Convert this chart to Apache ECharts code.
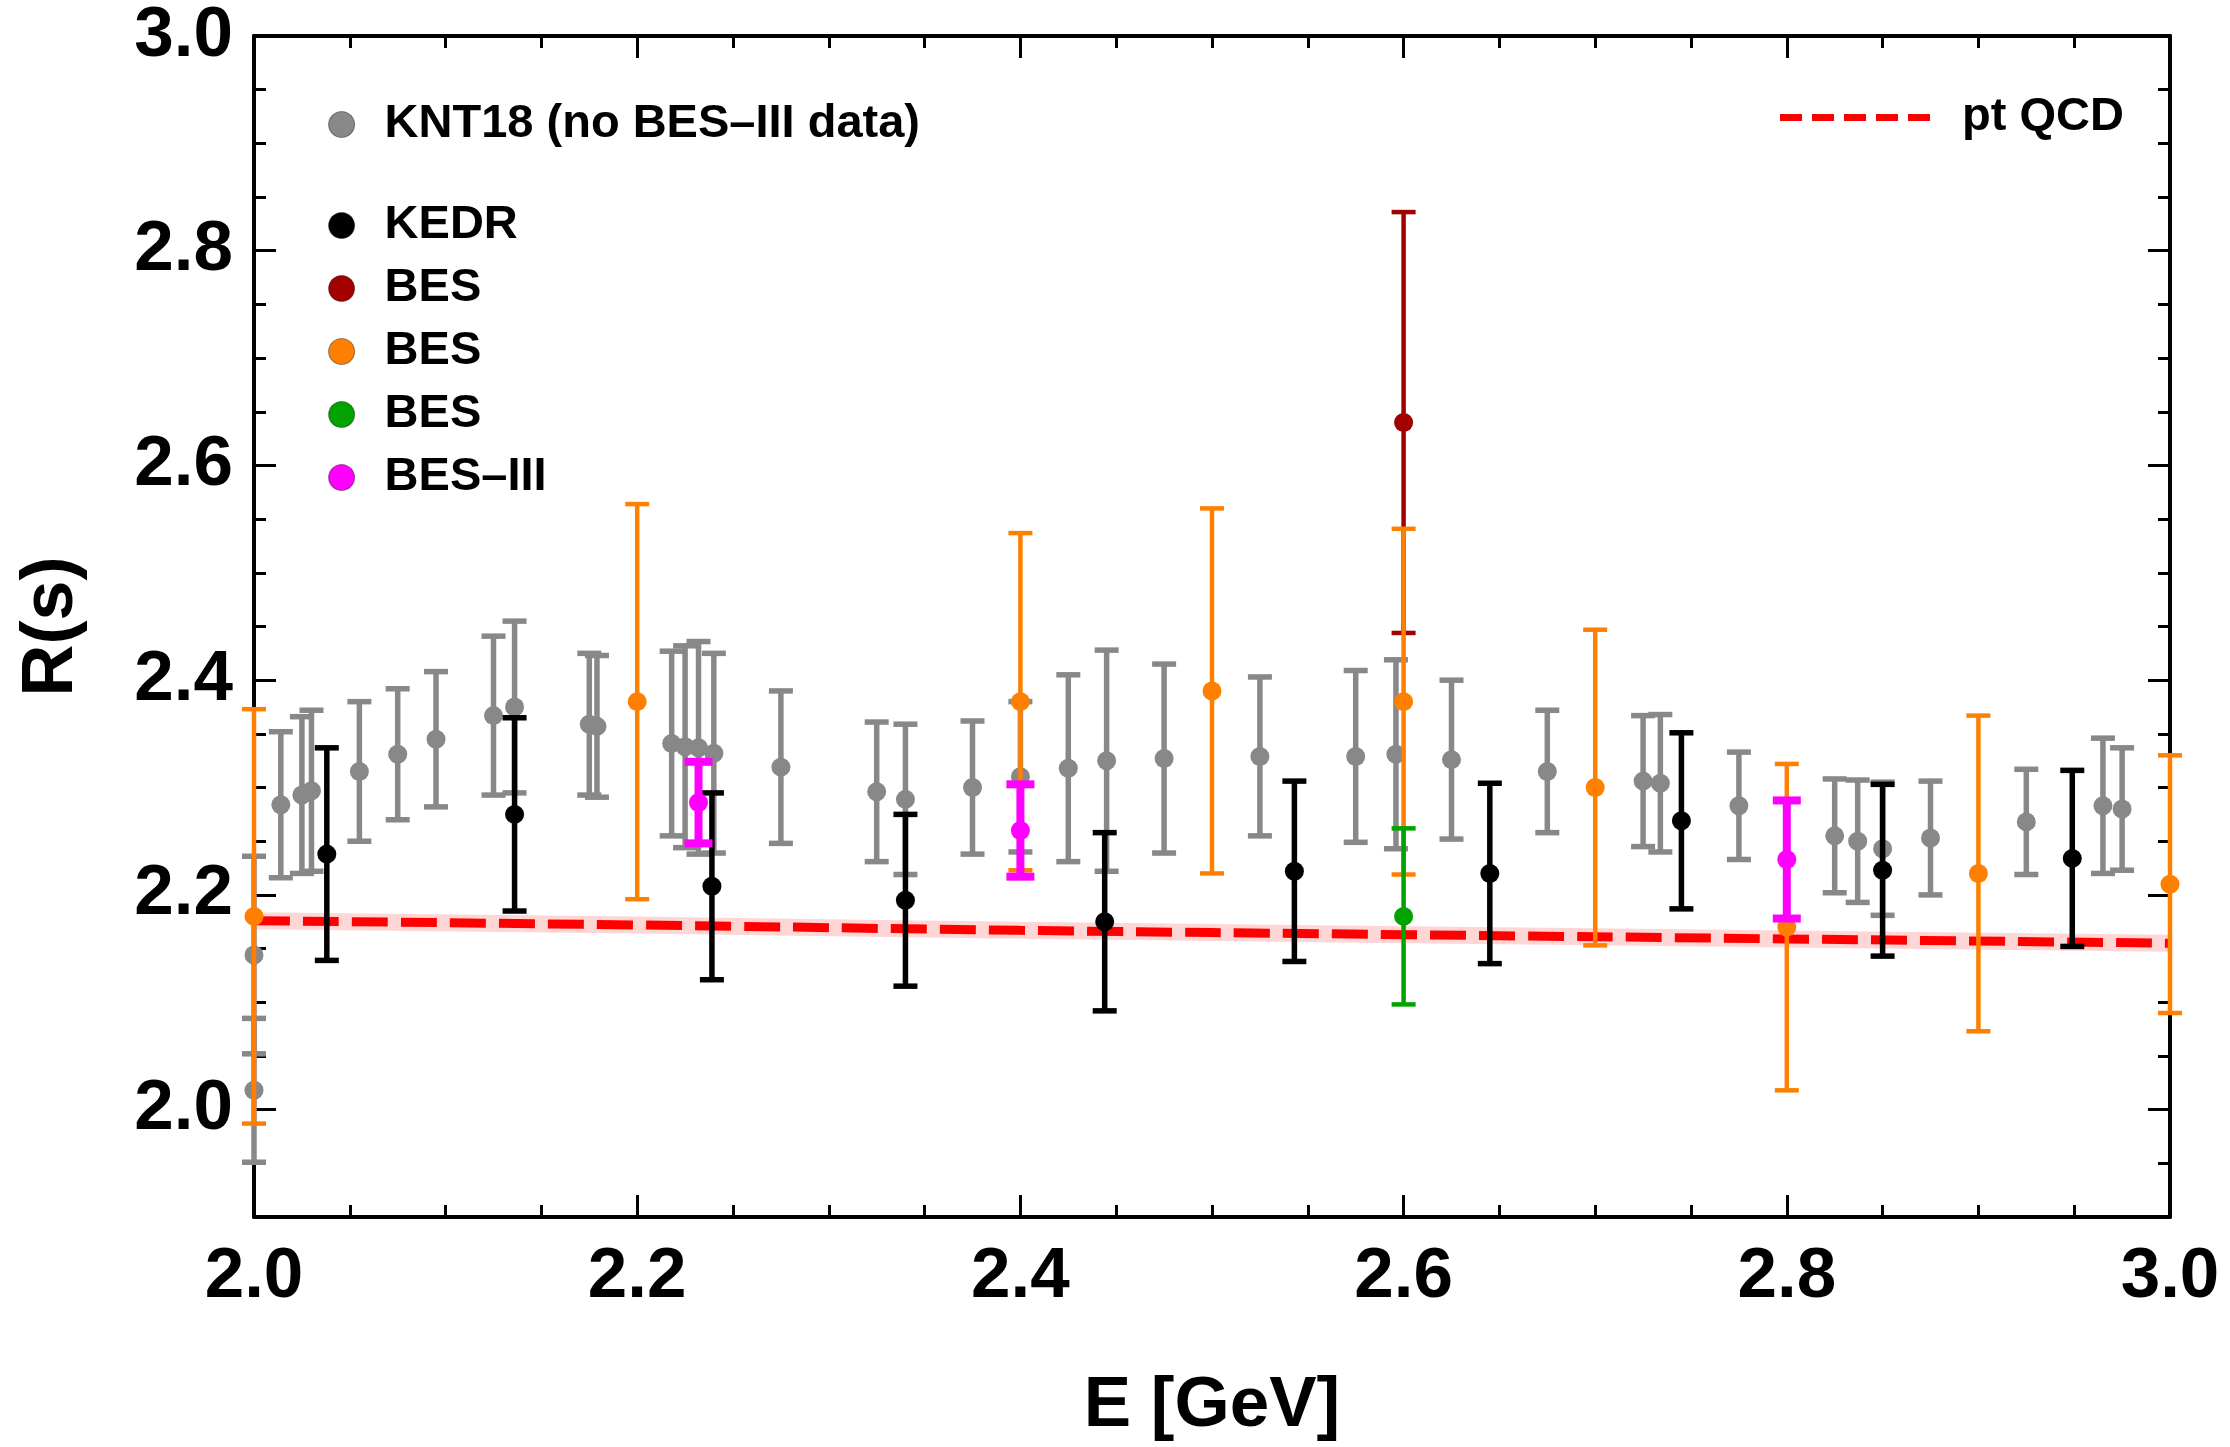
<!DOCTYPE html>
<html>
<head>
<meta charset="utf-8">
<script src="https://cdn.jsdelivr.net/npm/echarts@6/dist/echarts.min.js"></script>
<style>
  html, body { margin: 0; padding: 0; background: #ffffff; }
  #chart { width: 2230px; height: 1447px; }
</style>
</head>
<body>
<div id="chart"></div>
<script>
// R(s) measurements between 2 and 3 GeV: energy E [GeV], value R, symmetric error

// KNT18 compilation (no BES-III data)
const kntE = [2.000, 2.000, 2.014, 2.025, 2.030, 2.055, 2.075, 2.095, 2.125, 2.136,
              2.175, 2.179, 2.218, 2.225, 2.232, 2.240, 2.275, 2.325, 2.340, 2.375,
              2.400, 2.425, 2.445, 2.475, 2.525, 2.575, 2.596, 2.625, 2.675, 2.725,
              2.734, 2.775, 2.825, 2.837, 2.850, 2.875, 2.925, 2.965, 2.975];
const kntR = [2.144, 2.018, 2.284, 2.293, 2.297, 2.315, 2.331, 2.345, 2.367, 2.375,
              2.359, 2.357, 2.341, 2.338, 2.337, 2.332, 2.319, 2.296, 2.289, 2.300,
              2.310, 2.318, 2.325, 2.327, 2.329, 2.329, 2.331, 2.326, 2.315, 2.306,
              2.304, 2.283, 2.255, 2.250, 2.243, 2.253, 2.268, 2.283, 2.280];
const kntErr = [0.092, 0.067, 0.068, 0.073, 0.075, 0.065, 0.061, 0.063, 0.074, 0.080,
                0.066, 0.066, 0.086, 0.094, 0.099, 0.093, 0.071, 0.065, 0.070, 0.062,
                0.070, 0.087, 0.103, 0.088, 0.074, 0.080, 0.088, 0.074, 0.057, 0.061,
                0.064, 0.050, 0.053, 0.057, 0.062, 0.053, 0.049, 0.063, 0.057];

// KEDR
const kedrE = [2.038, 2.136, 2.239, 2.340, 2.444, 2.543, 2.645, 2.745, 2.850, 2.949];
const kedrR = [2.238, 2.275, 2.208, 2.195, 2.175, 2.222, 2.220, 2.269, 2.223, 2.234];
const kedrErr = [0.099, 0.090, 0.087, 0.080, 0.083, 0.084, 0.084, 0.082, 0.080, 0.082];

// BES (three data sets)
const besAE = [2.600];
const besAR = [2.640];
const besAErr = [0.196];

const besBE = [2.000, 2.200, 2.400, 2.500, 2.600, 2.700, 2.800, 2.900, 3.000];
const besBR = [2.180, 2.380, 2.380, 2.390, 2.380, 2.300, 2.170, 2.220, 2.210];
const besBErr = [0.193, 0.184, 0.157, 0.170, 0.161, 0.147, 0.152, 0.147, 0.120];

const besCE = [2.600];
const besCR = [2.180];
const besCErr = [0.082];

// BES-III
const bes3E = [2.232, 2.400, 2.800];
const bes3R = [2.286, 2.260, 2.233];
const bes3Err = [0.038, 0.043, 0.055];

// perturbative QCD prediction
const qcdE = [2.0, 2.2, 2.4, 2.6, 2.8, 3.0];
const qcdR = [2.176, 2.172, 2.167, 2.163, 2.159, 2.155];

// axis ticks
const xTickValues = [2.0, 2.2, 2.4, 2.6, 2.8, 3.0];
const yTickValues = [2.0, 2.2, 2.4, 2.6, 2.8, 3.0];

const X_MIN = 2.0, X_MAX = 3.0, Y_MIN = 1.9, Y_MAX = 3.0;
const FONT = "'Liberation Sans', Arial, Helvetica, sans-serif";

function steps(lo, hi, step) {
  const out = [];
  const n = Math.round((hi - lo) / step);
  for (let i = 0; i <= n; i++) out.push(+(lo + i * step).toFixed(4));
  return out;
}
const xMinorTicks = steps(X_MIN, X_MAX, 0.05);
const yMinorTicks = steps(Y_MIN, Y_MAX, 0.05);

const legendLabel = {
  'KNT18 (no BES–III data)': 'KNT18 (no BES–III data)',
  'KEDR': 'KEDR',
  'BES 1': 'BES',
  'BES 2': 'BES',
  'BES 3': 'BES',
  'BES–III': 'BES–III',
  'pt QCD': 'pt QCD'
};

function zip(E, R, err) {
  return E.map((e, i) => err ? [e, R[i], err[i]] : [e, R[i]]);
}

// vertical error bar with caps, drawn through the axis scales
function errorBars(name, E, R, err, color, lineWidth, capWidth, z) {
  return {
    type: 'custom',
    name: name,
    z: z,
    clip: false,
    silent: true,
    encode: { x: 0, y: 1 },
    data: zip(E, R, err),
    renderItem: function (params, api) {
      const x = api.value(0), y = api.value(1), e = api.value(2);
      const top = api.coord([x, y + e]);
      const bot = api.coord([x, y - e]);
      const h = capWidth / 2;
      const st = { stroke: color, lineWidth: lineWidth, fill: null };
      return {
        type: 'group',
        children: [
          { type: 'line', shape: { x1: top[0], y1: top[1], x2: bot[0], y2: bot[1] }, style: st },
          { type: 'line', shape: { x1: top[0] - h, y1: top[1], x2: top[0] + h, y2: top[1] }, style: st },
          { type: 'line', shape: { x1: bot[0] - h, y1: bot[1], x2: bot[0] + h, y2: bot[1] }, style: st }
        ]
      };
    }
  };
}

function points(name, E, R, color, z) {
  return {
    type: 'scatter',
    name: name,
    z: z,
    clip: false,
    symbol: 'circle',
    symbolSize: 19,
    itemStyle: { color: color, opacity: 1 },
    emphasis: { disabled: true },
    data: zip(E, R)
  };
}

const sets = [
  { name: 'KNT18 (no BES–III data)', E: kntE, R: kntR, err: kntErr, color: '#888888', lw: 5.5, cap: 24 },
  { name: 'BES 1', E: besAE, R: besAR, err: besAErr, color: '#A30000', lw: 4.5, cap: 24 },
  { name: 'BES 2', E: besBE, R: besBR, err: besBErr, color: '#FF8000', lw: 4.5, cap: 24 },
  { name: 'KEDR', E: kedrE, R: kedrR, err: kedrErr, color: '#000000', lw: 5.5, cap: 24 },
  { name: 'BES 3', E: besCE, R: besCR, err: besCErr, color: '#00A300', lw: 4.5, cap: 24 },
  { name: 'BES–III', E: bes3E, R: bes3R, err: bes3Err, color: '#FF00FF', lw: 8, cap: 28 }
];

const series = [];
// points first so each legend entry takes its colour from the scatter series
sets.forEach((s, i) => series.push(points(s.name, s.E, s.R, s.color, 11 + 2 * i)));
sets.forEach((s, i) => series.push(errorBars(s.name, s.E, s.R, s.err, s.color, s.lw, s.cap, 10 + 2 * i)));

series.push({
  type: 'line',
  name: 'pt QCD',
  z: 4,
  symbol: 'none',
  showSymbol: false,
  smooth: true,
  silent: true,
  itemStyle: { color: '#FF0000' },
  lineStyle: { color: '#FF0000', width: 9, type: [36, 13] },
  data: zip(qcdE, qcdR)
});
series.push({
  type: 'line',
  name: 'pt QCD band',
  z: 3,
  symbol: 'none',
  showSymbol: false,
  smooth: true,
  silent: true,
  lineStyle: { color: '#FFD6D6', width: 17 },
  data: zip(qcdE, qcdR)
});

const legendText = { fontFamily: FONT, fontSize: 47, fontWeight: 'bold', color: '#000', lineHeight: 46 };
const legendCommon = {
  orient: 'vertical',
  selectedMode: false,
  padding: 0,
  icon: 'circle',
  itemWidth: 76,
  itemHeight: 26,
  itemStyle: { borderWidth: 1.2, borderColor: 'rgba(0,0,0,0.35)' },
  textStyle: legendText,
  formatter: n => legendLabel[n]
};

const axisLineStyle = { color: '#000', width: 4 };
const majorTick = (values, len) => ({
  show: true, inside: true, length: len, customValues: values,
  lineStyle: { color: '#000', width: 3 }
});

function xAxisDef(position, withLabels) {
  return {
    type: 'value', position: position, min: X_MIN, max: X_MAX, interval: 0.2,
    axisLine: { show: true, onZero: false, lineStyle: axisLineStyle },
    axisTick: majorTick(xTickValues, 22),
    minorTick: { show: false },
    splitLine: { show: false },
    axisLabel: withLabels ? {
      show: true, customValues: xTickValues, margin: 25,
      fontFamily: FONT, fontSize: 71, fontWeight: 'bold', color: '#000',
      formatter: v => v.toFixed(1)
    } : { show: false }
  };
}
function xMinorDef(position) {
  return {
    type: 'value', position: position, min: X_MIN, max: X_MAX, interval: 0.05,
    axisLine: { show: false },
    axisTick: majorTick(xMinorTicks, 12),
    splitLine: { show: false },
    axisLabel: { show: false }
  };
}
function yAxisDef(position, withLabels) {
  return {
    type: 'value', position: position, min: Y_MIN, max: Y_MAX, interval: 0.05,
    axisLine: { show: true, onZero: false, lineStyle: axisLineStyle },
    axisTick: majorTick(yTickValues, 22),
    splitLine: { show: false },
    axisLabel: withLabels ? {
      show: true, customValues: yTickValues, margin: 21,
      fontFamily: FONT, fontSize: 71, fontWeight: 'bold', color: '#000',
      formatter: v => v.toFixed(1)
    } : { show: false }
  };
}
function yMinorDef(position) {
  return {
    type: 'value', position: position, min: Y_MIN, max: Y_MAX, interval: 0.05,
    axisLine: { show: false },
    axisTick: majorTick(yMinorTicks, 12),
    splitLine: { show: false },
    axisLabel: { show: false }
  };
}

const xMain = xAxisDef('bottom', true);
Object.assign(xMain, {
  name: 'E [GeV]', nameLocation: 'middle', nameGap: 154,
  nameTextStyle: { fontFamily: FONT, fontSize: 71, fontWeight: 'bold', color: '#000' }
});
const yMain = yAxisDef('left', true);
Object.assign(yMain, {
  name: 'R(s)', nameLocation: 'middle', nameGap: 166, nameRotate: 90,
  nameTextStyle: { fontFamily: FONT, fontSize: 72, fontWeight: 'bold', color: '#000' }
});

const option = {
  backgroundColor: '#ffffff',
  animation: false,
  grid: { left: 254, right: 60, top: 36, bottom: 227, containLabel: false },
  xAxis: [xMain, xMinorDef('bottom'), xAxisDef('top', false), xMinorDef('top')],
  yAxis: [yMain, yMinorDef('left'), yAxisDef('right', false), yMinorDef('right')],
  legend: [
    Object.assign({}, legendCommon, { left: 328, top: 101, data: ['KNT18 (no BES–III data)'] }),
    Object.assign({}, legendCommon, { left: 328, top: 202, itemGap: 16,
      data: ['KEDR', 'BES 1', 'BES 2', 'BES 3', 'BES–III'] }),
    {
      orient: 'horizontal', selectedMode: false, padding: 0,
      left: 1780, top: 94,
      itemWidth: 150, itemHeight: 7,
      icon: 'path://M0 0h22v7H0z M32 0h22v7H32z M64 0h22v7H64z M96 0h22v7H96z M128 0h22v7H128z',
      itemStyle: { color: '#FF0000' },
      textStyle: Object.assign({}, legendText, { padding: [0, 0, 0, 27] }),
      formatter: n => legendLabel[n],
      data: ['pt QCD']
    }
  ],
  series: series
};

const chart = echarts.init(document.getElementById('chart'), null, { renderer: 'canvas' });
chart.setOption(option);
</script>
</body>
</html>
